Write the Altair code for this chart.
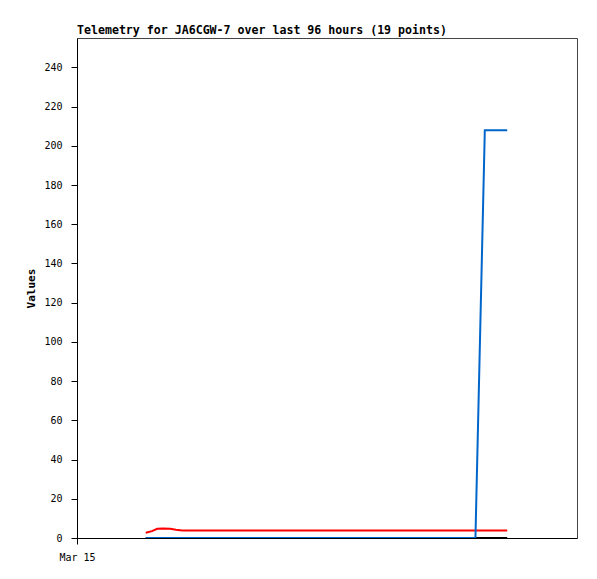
import altair as alt
import pandas as pd

# hours from the left edge of the plot (Mar 15)
hours = [13.2, 14.4, 15.4, 16.5, 17.9, 19.0, 20.2, 25.0, 32.0, 40.0, 48.0,
         55.0, 62.0, 68.0, 73.0, 76.5, 78.3, 80.0, 82.6]
red = [2.7, 3.5, 4.7, 4.8, 4.7, 4.2, 3.8, 3.8, 3.8, 3.8, 3.8,
       3.8, 3.8, 3.8, 3.8, 3.8, 3.8, 3.8, 3.8]
blue = [0, 0, 0, 0, 0, 0, 0, 0, 0, 0, 0,
        0, 0, 0, 0, 0, 208, 208, 208]
black = [0] * 19

series_names = ["black", "red", "blue"]
series_colors = ["#000000", "#ff0000", "#0066cc"]

rows = []
for name, vals in zip(series_names, [black, red, blue]):
    for h, v in zip(hours, vals):
        rows.append({"hour": h, "value": v, "series": name})
df = pd.DataFrame(rows)

font = "DejaVu Sans Mono"

chart = alt.Chart(df).mark_line(strokeWidth=2, clip=True).encode(
    x=alt.X("hour:Q",
            scale=alt.Scale(domain=[0, 96], nice=False, zero=False),
            axis=alt.Axis(values=[0], labelExpr="'Mar 15'", title=None,
                          grid=False, tickSize=6, labelFont=font,
                          labelFontSize=10, labelColor="#000",
                          domainColor="#000", tickColor="#000",
                          labelFlush=False, labelPadding=8)),
    y=alt.Y("value:Q",
            scale=alt.Scale(domain=[0, 255], nice=False),
            axis=alt.Axis(values=list(range(0, 241, 20)), title="Values",
                          grid=False, tickSize=6, labelFont=font,
                          labelFontSize=10, labelColor="#000",
                          titleFont=font, titleFontSize=11,
                          titleFontWeight="bold", titleColor="#000",
                          domainColor="#000", tickColor="#000",
                          titlePadding=7, labelPadding=9)),
    color=alt.Color("series:N",
                    scale=alt.Scale(domain=series_names, range=series_colors),
                    legend=None),
    order=alt.Order("hour:Q"),
).properties(
    width=500,
    height=500,
    title=alt.TitleParams(
        "Telemetry for JA6CGW-7 over last 96 hours (19 points)",
        anchor="start", frame="group", font=font, fontSize=11.6,
        fontWeight="bold", color="#000", offset=1),
    autosize=alt.AutoSizeParams(type="none"),
    padding={"left": 69, "top": 30, "right": 12, "bottom": 30},
).configure_view(
    stroke="#444444", strokeWidth=1
)

chart.save("out.html", embed_options={"renderer": "svg", "actions": False})
